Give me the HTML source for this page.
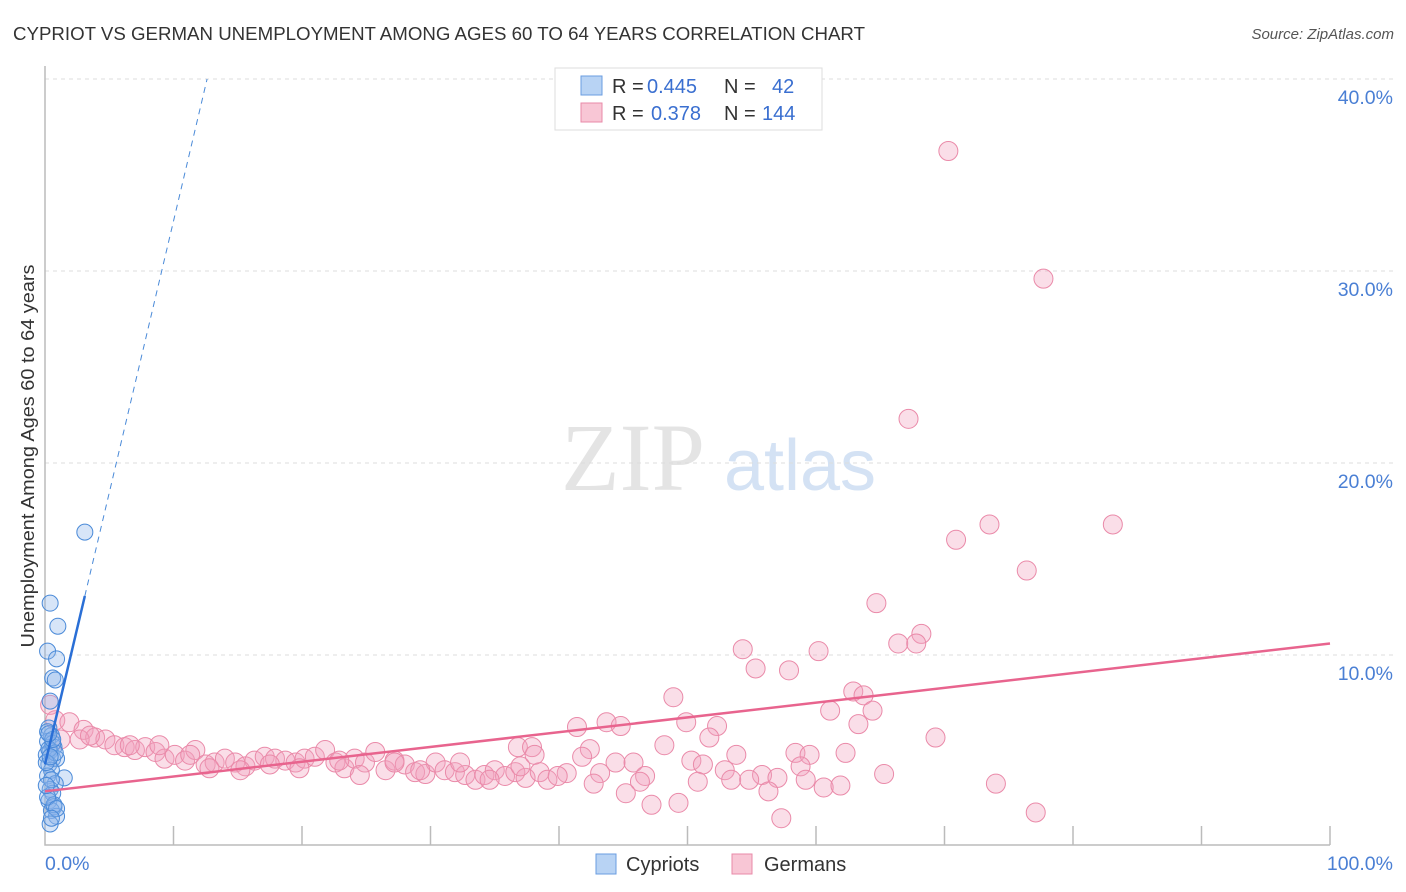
<!DOCTYPE html>
<html><head><meta charset="utf-8"><style>
body{margin:0;background:#fff;font-family:"Liberation Sans",sans-serif;}
svg{display:block}
</style></head><body>
<svg id="chart" width="1406" height="892" xmlns="http://www.w3.org/2000/svg">
<text x="13" y="40" font-size="18.5" fill="#333" textLength="852" lengthAdjust="spacingAndGlyphs">CYPRIOT VS GERMAN UNEMPLOYMENT AMONG AGES 60 TO 64 YEARS CORRELATION CHART</text>
<text x="1394" y="39" font-size="15" fill="#555" font-style="italic" text-anchor="end">Source: ZipAtlas.com</text>
<text transform="translate(34,456) rotate(-90)" font-size="18.5" fill="#333" text-anchor="middle" textLength="383" lengthAdjust="spacingAndGlyphs">Unemployment Among Ages 60 to 64 years</text>
<g><text x="633" y="490" font-size="96" font-family="Liberation Serif,serif" fill="#e4e4e4" text-anchor="middle">ZIP</text><text x="800" y="490" font-size="72" fill="#d4e2f4" text-anchor="middle">atlas</text></g>
<g id="grid"></g><g id="axes"></g><g id="pink"></g><g id="blue"></g><g id="lines"></g>
<g>
<rect x="555" y="68" width="267" height="62" fill="#fff" stroke="#ddd"/>
<rect x="581" y="76" width="21" height="19" fill="#b8d3f4" stroke="#6a9de0"/>
<text x="612" y="93" font-size="20" fill="#333">R =</text><text x="647" y="93" font-size="20" fill="#3a6fd0">0.445</text>
<text x="724" y="93" font-size="20" fill="#333">N =</text><text x="772" y="93" font-size="20" fill="#3a6fd0">42</text>
<rect x="581" y="103" width="21" height="19" fill="#f8c6d5" stroke="#e88aa8"/>
<text x="612" y="120" font-size="20" fill="#333">R =</text><text x="651" y="120" font-size="20" fill="#3a6fd0">0.378</text>
<text x="724" y="120" font-size="20" fill="#333">N =</text><text x="762" y="120" font-size="20" fill="#3a6fd0">144</text>
</g>
<g><rect x="596" y="854" width="20" height="20" fill="#b8d3f4" stroke="#6a9de0"/><text x="626" y="871" font-size="20" fill="#333">Cypriots</text></g>
<g><rect x="732" y="854" width="20" height="20" fill="#f8c6d5" stroke="#e88aa8"/><text x="764" y="871" font-size="20" fill="#333">Germans</text></g>
</svg>
<script>
const yTicks=[10,20,30,40];
const yTickLabels=["10.0%","20.0%","30.0%","40.0%"];
const blueX=[0.4,1.0,3.1,0.2,0.9,0.6,0.8,0.4,1.5,0.3,0.5,0.2,0.7,0.4,0.1,0.6,0.9,0.3,0.5,0.2,0.8,0.4,0.6,0.3,0.7,0.5,0.9,0.4,0.2,0.6,0.3,0.8,0.1,0.5,0.7,0.2,0.4,0.6,0.3,0.9,0.5,0.1];
const blueY=[12.7,11.5,16.4,10.2,9.8,8.8,8.7,7.6,3.6,6.2,5.8,5.5,5.2,5.0,4.8,4.6,4.6,4.3,4.0,3.7,3.3,3.0,2.8,2.4,2.1,1.9,1.6,1.2,6.0,5.4,5.1,4.9,4.4,3.5,2.2,2.6,4.7,5.6,5.9,2.0,1.5,3.2];
const pinkX=[70.3,77.7,67.2,73.5,83.1,70.9,76.4,64.7,68.2,66.4,67.8,54.3,60.2,55.3,57.9,48.9,62.9,63.7,61.1,64.4,63.3,41.4,43.7,44.8,49.9,52.3,51.7,69.3,48.2,36.8,37.9,42.4,53.8,58.4,59.5,62.3,41.8,44.4,45.8,50.3,51.2,58.8,52.9,55.8,53.4,54.8,57.0,59.2,65.3,43.2,46.7,46.3,40.6,42.7,50.8,56.3,60.6,61.9,74.0,45.2,47.2,49.3,57.3,77.1,
0.4,0.8,1.9,3.0,1.2,3.9,4.7,5.4,6.2,7.0,7.8,8.6,9.3,10.1,10.9,11.7,12.5,13.2,14.0,14.8,15.6,16.3,17.1,17.9,18.7,19.5,20.2,21.0,21.8,22.6,23.3,24.1,24.9,25.7,26.5,27.2,28.0,28.8,29.6,30.4,31.1,31.9,32.7,33.5,34.2,35.0,35.8,36.6,37.4,38.5,39.1,39.9,2.7,3.5,6.6,8.9,11.3,12.8,15.2,17.5,19.8,22.9,24.5,27.2,29.2,32.3,34.6,37.0,38.1];
const pinkY=[36.25,29.6,22.3,16.8,16.8,16.0,14.4,12.7,11.1,10.6,10.6,10.3,10.2,9.3,9.2,7.8,8.1,7.9,7.1,7.1,6.4,6.25,6.5,6.3,6.5,6.3,5.7,5.7,5.3,5.2,5.2,5.1,4.8,4.9,4.8,4.9,4.7,4.4,4.4,4.5,4.3,4.2,4.0,3.75,3.5,3.5,3.6,3.5,3.8,3.85,3.7,3.4,3.85,3.3,3.4,2.9,3.1,3.2,3.3,2.8,2.2,2.3,1.5,1.8,
7.4,6.6,6.5,6.1,5.6,5.7,5.6,5.3,5.2,5.05,5.2,4.95,4.6,4.8,4.5,5.05,4.3,4.4,4.6,4.4,4.2,4.5,4.7,4.6,4.5,4.4,4.6,4.7,5.05,4.4,4.1,4.6,4.4,4.95,4.0,4.5,4.3,3.9,3.8,4.4,4.0,3.9,3.75,3.5,3.75,4.0,3.7,3.9,3.6,3.9,3.5,3.7,5.6,5.8,5.3,5.3,4.8,4.1,4.0,4.3,4.1,4.5,3.75,4.4,4.0,4.4,3.5,4.2,4.8];
const pinkTrend=[2.9,0.077];
const blueTrend=[4.3,2.83];
const NS="http://www.w3.org/2000/svg";
const X=v=>45+v*12.85, Y=v=>847-v*19.2;
function mk(p,tag,a){const e=document.createElementNS(NS,tag);for(const k in a)e.setAttribute(k,a[k]);document.getElementById(p).appendChild(e);return e;}
yTicks.forEach((t,i)=>{
 const l=mk('grid','line',{x1:45,x2:1393,y1:Y(t),y2:Y(t),stroke:'#ddd','stroke-dasharray':'4,4'});
 
 
 const tx=mk('grid','text',{x:1393,y:Y(t)+25,'font-size':19.5,fill:'#4a7fd4','text-anchor':'end'});tx.textContent=yTickLabels[i];
 
 
});
const ax=mk('axes','path',{d:'M45,66 V845 H1330',fill:'none',stroke:'#bbb','stroke-width':1.5});


for(let i=1;i<=10;i++){const t=mk('axes','line',{x1:X(i*10),x2:X(i*10),y1:826,y2:845,stroke:'#bbb','stroke-width':1.5});
 
 }
let a=mk('axes','text',{x:45,y:870,'font-size':19.5,fill:'#4a7fd4'});a.textContent='0.0%';


a=mk('axes','text',{x:1393,y:870,'font-size':19.5,fill:'#4a7fd4','text-anchor':'end'});a.textContent='100.0%';


pinkX.forEach((x,i)=>{const c=mk('pink','circle',{cx:X(x),cy:Y(pinkY[i]),r:9.5,fill:'rgba(242,160,188,0.35)',stroke:'#ea8aa9','stroke-width':1});
 
 });
blueX.forEach((x,i)=>{const c=mk('blue','circle',{cx:X(x),cy:Y(blueY[i]),r:8,fill:'rgba(140,180,235,0.35)',stroke:'#4a8ad8','stroke-width':1});
 
 });
let l=mk('lines','line',{x1:X(0),y1:Y(pinkTrend[0]),x2:X(100),y2:Y(pinkTrend[0]+pinkTrend[1]*100),stroke:'#e8648e','stroke-width':2.5});


const bx=3.1, bEnd=(40-blueTrend[0])/blueTrend[1];
l=mk('lines','line',{x1:X(0),y1:Y(blueTrend[0]),x2:X(bx),y2:Y(blueTrend[0]+blueTrend[1]*bx),stroke:'#2a6fd6','stroke-width':2.5});


l=mk('lines','line',{x1:X(bx),y1:Y(blueTrend[0]+blueTrend[1]*bx),x2:X(bEnd),y2:Y(40),stroke:'#4a8ad8','stroke-width':1,'stroke-dasharray':'6,5'});


</script>
</body></html>
